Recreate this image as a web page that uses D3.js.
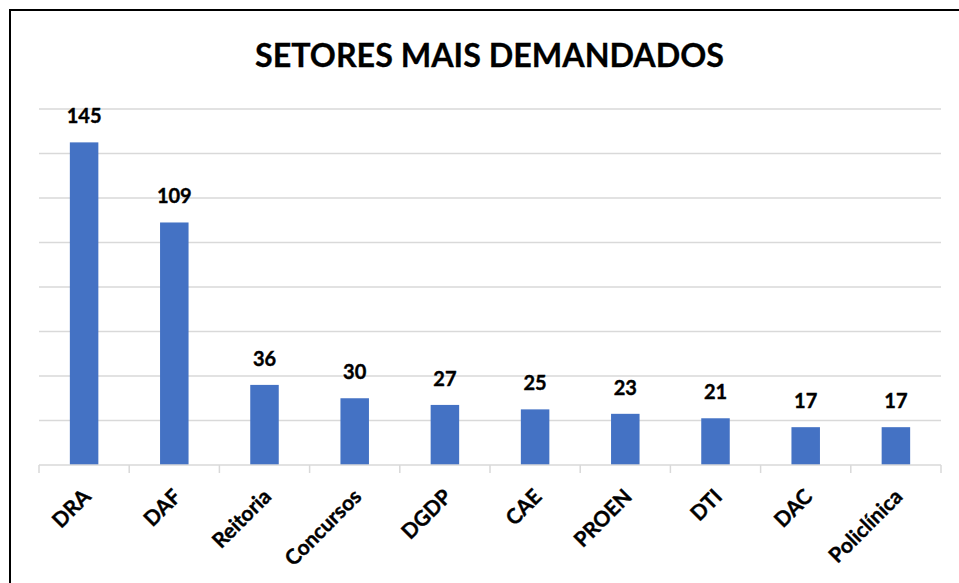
<!DOCTYPE html>
<html><head><meta charset="utf-8">
<script src="https://cdn.jsdelivr.net/npm/d3@7"></script>
<style>body{margin:0;background:#fff}svg{display:block}</style>
</head><body>
<svg id="c" width="959" height="583"></svg>
<script>
const title = "SETORES MAIS DEMANDADOS";
const categories = ["DRA","DAF","Reitoria","Concursos","DGDP","CAE","PROEN","DTI","DAC","Policlínica"];
const values = [145,109,36,30,27,25,23,21,17,17];
const yTicks = [0,20,40,60,80,100,120,140,160];

const svg = d3.select("#c");
const FONT = "Lato, 'Open Sans', sans-serif";
svg.append("rect").attr("x",0).attr("y",0).attr("width",959).attr("height",583).attr("fill","#fff");
svg.append("rect").attr("x",10).attr("y",10).attr("width",1000).attr("height",1000)
  .attr("fill","none").attr("stroke","#000").attr("stroke-width",2);

const x = d3.scaleBand().domain(categories).range([39,941]).paddingInner(0.684).paddingOuter(0.342);
const y = d3.scaleLinear().domain([0,160]).range([465,109]);

// gridlines
svg.append("g").selectAll("line").data(yTicks.filter(d=>d>0)).join("line")
  .attr("x1",39).attr("x2",941).attr("y1",d=>y(d)).attr("y2",d=>y(d))
  .attr("stroke","#d9d9d9").attr("stroke-width",1.5);

// bars
svg.append("g").selectAll("rect").data(values).join("rect")
  .attr("x",(d,i)=>x(categories[i])).attr("width",x.bandwidth())
  .attr("y",d=>y(d)).attr("height",d=>y(0)-y(d)).attr("fill","#4472c4");

// x axis
const xAxis = d3.axisBottom(x).tickSize(0).tickFormat("");
const ax = svg.append("g").attr("transform","translate(0,465)").call(xAxis);
ax.select(".domain").attr("stroke","#d9d9d9").attr("stroke-width",1.5).attr("d","M39,0H941");
const step = x.step();
const bounds = d3.range(categories.length+1).map(i=>39+i*step);
ax.selectAll("line.sep").data(bounds).join("line").attr("class","sep")
  .attr("x1",d=>d).attr("x2",d=>d).attr("y1",0).attr("y2",8)
  .attr("stroke","#d9d9d9").attr("stroke-width",1.5);

// category labels
svg.append("g").selectAll("text").data(categories).join("text")
  .attr("transform",d=>`translate(${x(d)+x.bandwidth()/2+8},498) rotate(-45)`)
  .attr("text-anchor","end").attr("font-family",FONT).attr("font-weight",700)
  .attr("font-size",21).attr("fill","#000").attr("stroke","#000").attr("stroke-width",0.4)
  .text(d=>d);

// value labels
svg.append("g").selectAll("text").data(values).join("text")
  .attr("x",(d,i)=>x(categories[i])+x.bandwidth()/2).attr("y",d=>y(d)-19)
  .attr("text-anchor","middle").attr("font-family",FONT).attr("font-weight",700)
  .attr("font-size",20).attr("fill","#000").attr("stroke","#000").attr("stroke-width",0.4)
  .text(d=>d);

// title
svg.append("text").attr("x",489.5).attr("y",67).attr("text-anchor","middle")
  .attr("font-family",FONT).attr("font-weight",700).attr("font-size",33)
  .attr("textLength",469).attr("lengthAdjust","spacingAndGlyphs")
  .attr("fill","#000").attr("stroke","#000").attr("stroke-width",0.3).text(title);
</script>
</body></html>
